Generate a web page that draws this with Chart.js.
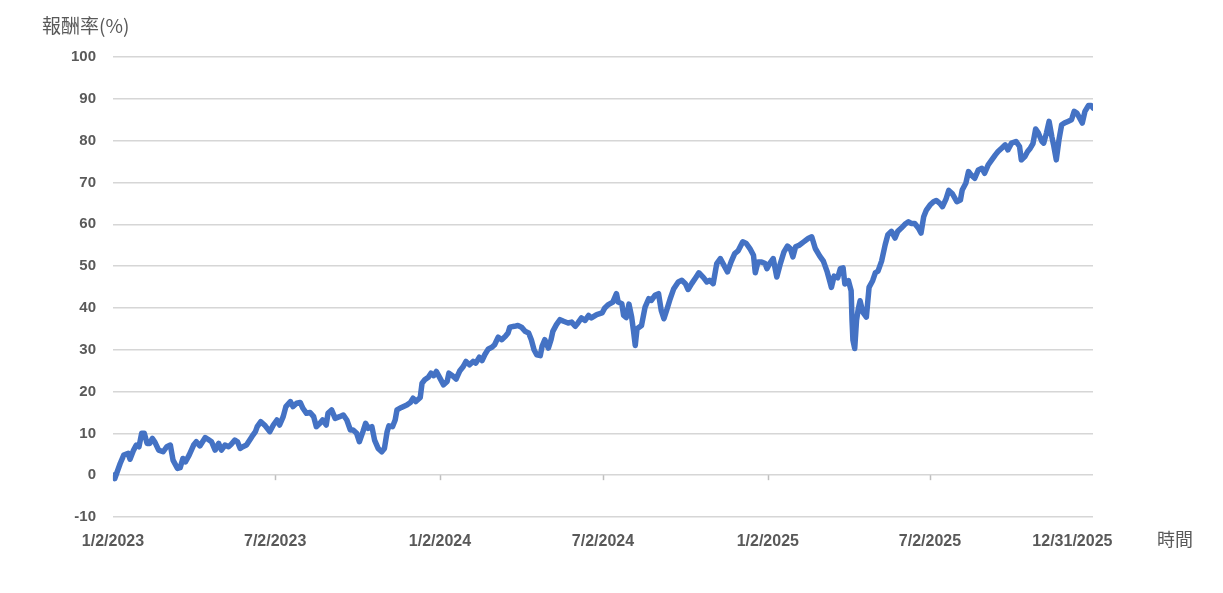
<!DOCTYPE html>
<html>
<head>
<meta charset="utf-8">
<title>報酬率</title>
<script src="https://cdn.jsdelivr.net/npm/chart.js@4.4.1/dist/chart.umd.min.js"></script>
<style>
  body { margin: 0; background: #fff; }
  #wrap { position: relative; width: 1223px; height: 593px; }
  .axis-title {
    position: absolute;
    color: #595959;
    font-family: "Noto Sans CJK TC", "Noto Sans CJK SC", sans-serif;
    font-size: 18px;
    line-height: 1;
    white-space: nowrap;
  }
  #y-title { left: 42px; top: 15px; font-size: 19px; }
  #x-title { left: 1157px; top: 529px; }
</style>
</head>
<body>
<div id="wrap">
  <canvas id="returnChart" width="1223" height="593"></canvas>
  <div class="axis-title" id="y-title">報酬率(%)</div>
  <div class="axis-title" id="x-title">時間</div>
</div>
<script>
// Days since 1/2/2023 for each sampled point
var dayOffsets = [
  0, 2, 4, 8, 12, 17, 19, 23, 26, 29, 32, 35, 38, 41, 44, 47, 51, 56, 60, 64,
  67, 72, 75, 78, 81, 85, 90, 93, 97, 103, 106, 110, 114, 118, 121, 125, 129, 132, 136, 139,
  142, 145, 149, 155, 159, 161, 165, 170, 175, 179, 183, 186, 190, 193, 198, 201, 205, 209, 212, 216,
  220, 224, 227, 231, 234, 238, 240, 244, 248, 253, 257, 261, 265, 268, 272, 275, 279, 282, 285, 289,
  292, 296, 300, 303, 306, 308, 312, 315, 317, 322, 328, 332, 335, 338, 343, 345, 348, 352, 355, 358,
  361, 365, 369, 373, 375, 379, 383, 387, 391, 394, 398, 402, 405, 409, 412, 415, 419, 423, 426, 430,
  434, 438, 441, 443, 448, 452, 456, 460, 464, 467, 470, 473, 477, 479, 482, 486, 489, 491, 495, 499,
  503, 508, 512, 516, 519, 523, 527, 531, 534, 540, 546, 549, 553, 558, 562, 564, 568, 570, 573, 576,
  579, 581, 583, 585, 590, 594, 598, 601, 605, 609, 612, 615, 618, 622, 626, 631, 635, 639, 642, 646,
  651, 654, 659, 663, 666, 670, 674, 678, 681, 686, 690, 694, 698, 703, 707, 711, 715, 717, 720, 724,
  728, 730, 733, 737, 741, 745, 749, 753, 756, 759, 762, 766, 771, 776, 780, 784, 789, 793, 797, 800,
  802, 805, 809, 812, 815, 817, 821, 824, 825, 826, 828, 830, 832, 834, 837, 841, 844, 848, 851, 854,
  858, 862, 865, 869, 873, 876, 880, 884, 888, 891, 895, 899, 902, 905, 908, 912, 916, 919, 923, 926,
  930, 933, 937, 942, 946, 948, 952, 955, 958, 962, 966, 970, 973, 977, 981, 985, 988, 992, 996, 999,
  1003, 1008, 1012, 1014, 1018, 1021, 1024, 1027, 1030, 1033, 1037, 1039, 1042, 1045, 1048, 1050, 1053, 1056, 1059, 1062,
  1066, 1070, 1073, 1076, 1079, 1082, 1085, 1089, 1092, 1094
];

// Cumulative return (%) at each of those days
var returns = [
  0, -0.8, 0.4, 2.8, 4.8, 5.2, 3.8, 6, 7.2, 6.8, 10, 10, 7.6, 7.6, 8.8, 7.8, 6, 5.6, 6.8, 7.2,
  3.6, 1.6, 1.8, 4, 3.2, 4.8, 7.2, 8, 7, 9, 8.6, 8, 6, 7.6, 6, 7.2, 6.8, 7.4, 8.4, 8,
  6.4, 6.8, 7.2, 9.2, 10.4, 11.6, 12.8, 11.8, 10.4, 12, 13.2, 12, 14, 16.4, 17.6, 16.4, 17.2, 17.4, 16, 14.8,
  15, 14, 11.6, 12.4, 13.2, 12, 14.8, 15.6, 13.6, 14, 14.4, 13.2, 10.8, 10.8, 10, 8, 10.4, 12.4, 11.2, 11.6,
  8.4, 6.4, 5.6, 6.4, 10.4, 11.8, 11.6, 13.2, 15.6, 16.2, 16.8, 17.4, 18.4, 17.6, 18.6, 22, 22.8, 23.4, 24.4, 23.8,
  24.8, 23.2, 21.6, 22.4, 24.4, 23.8, 23, 24.9, 26, 27.2, 26.4, 27.2, 26.8, 28.2, 27.4, 28.8, 30.2, 30.6, 31.2, 33,
  32.4, 33.2, 34, 35.4, 35.6, 35.8, 35.4, 34.4, 34, 32.4, 30, 28.8, 28.6, 30.8, 32.4, 30.4, 32.4, 34.4, 36, 37.2,
  36.8, 36.4, 36.6, 35.6, 36.4, 37.6, 37, 38.2, 37.6, 38.4, 38.8, 40, 40.8, 41.4, 43.4, 41.4, 41, 38.2, 37.7, 40.9,
  37.8, 34.6, 31, 35, 35.8, 40.2, 42.2, 41.8, 43, 43.4, 39.4, 37.4, 39.4, 42.2, 44.6, 46.2, 46.6, 45.8, 44.4, 45.8,
  47.4, 48.4, 47.3, 46.2, 46.6, 45.8, 50.6, 51.8, 50.6, 48.6, 51, 53, 53.7, 55.8, 55.4, 54.2, 52.6, 48.4, 51, 51,
  50.6, 49.4, 50.6, 51.8, 47.4, 50.6, 53.4, 54.8, 54.2, 52.2, 54.6, 55, 55.8, 56.6, 57, 54.2, 52.4, 51.2, 48.8, 46.5,
  44.9, 47.6, 47.2, 49.4, 49.6, 45.7, 46.5, 44.1, 37, 32.3, 30.3, 37, 39.8, 41.7, 39, 37.8, 44.9, 46.5, 48.4, 48.8,
  51.2, 55.1, 57.5, 58.3, 56.7, 58.3, 59.1, 60, 60.6, 60.2, 60.2, 59.1, 57.9, 61.8, 63.4, 64.6, 65.4, 65.7, 65, 64.2,
  66.1, 68.1, 67.3, 65.4, 65.8, 68.2, 69.8, 72.6, 71.8, 71, 73, 73.4, 72.2, 74.2, 75.4, 76.6, 77.4, 78.2, 79, 77.8,
  79.4, 79.8, 78.6, 75.4, 76.2, 77.4, 78.2, 79.3, 82.8, 81.8, 79.8, 79.4, 81.8, 84.6, 81, 79, 75.4, 80.2, 83.8, 84.2,
  84.6, 85, 87, 86.6, 85.4, 84.2, 87, 88.4, 88.4, 87.8
];

// Date labels on the time axis
var tickLabels = ["1/2/2023", "7/2/2023", "1/2/2024", "7/2/2024", "1/2/2025", "7/2/2025", "12/31/2025"];

// y axis range
var yMin = -10;
var yMax = 100;
var yStep = 10;

function daysSinceStart(label) {
  var p = label.split("/");
  var t = Date.UTC(+p[2], +p[0] - 1, +p[1]);
  return Math.round((t - Date.UTC(2023, 0, 2)) / 86400000);
}

var tickDays = tickLabels.map(daysSinceStart);
var lastDay = tickDays[tickDays.length - 1];
// Excel pulls the final date label inward a little
var lastLabelShift = 23;
var labelDays = tickDays.map(function (d, i) {
  return i === tickDays.length - 1 ? d - lastLabelShift : d;
});

var points = dayOffsets.map(function (d, i) {
  return { x: d, y: returns[i] };
});

// small tick marks hanging under the 0 line
var zeroTickMarks = {
  id: "zeroTickMarks",
  beforeDatasetsDraw: function (chart) {
    var xs = chart.scales.x;
    var y0 = chart.scales.y.getPixelForValue(0);
    var ctx = chart.ctx;
    ctx.save();
    ctx.strokeStyle = "#bfbfbf";
    ctx.lineWidth = 1.5;
    tickDays.slice(0, -1).forEach(function (d) {
      var px = Math.round(xs.getPixelForValue(d)) + 0.5;
      ctx.beginPath();
      ctx.moveTo(px, y0);
      ctx.lineTo(px, y0 + 5);
      ctx.stroke();
    });
    ctx.restore();
  }
};

var tickFont = {
  family: "'Liberation Sans', Arial, sans-serif",
  weight: "bold"
};

var ctx = document.getElementById("returnChart").getContext("2d");
var returnChart = new Chart(ctx, {
  type: "line",
  data: {
    datasets: [{
      data: points,
      borderColor: "#4472C4",
      borderWidth: 5.5,
      pointRadius: 0,
      tension: 0,
      borderJoinStyle: "round",
      borderCapStyle: "round"
    }]
  },
  options: {
    responsive: false,
    animation: false,
    layout: { padding: { top: 57, right: 130, bottom: 36, left: 0 } },
    plugins: {
      legend: { display: false },
      tooltip: { enabled: false }
    },
    scales: {
      x: {
        type: "linear",
        min: 0,
        max: lastDay,
        grid: { display: false, drawTicks: false },
        border: { display: false },
        afterBuildTicks: function (scale) {
          scale.ticks = labelDays.map(function (v) { return { value: v }; });
        },
        afterFit: function (scale) { scale.height = 40; },
        ticks: {
          autoSkip: false,
          maxRotation: 0,
          padding: 15,
          color: "#595959",
          font: Object.assign({ size: 16 }, tickFont),
          callback: function (value, index) { return tickLabels[index]; }
        }
      },
      y: {
        min: yMin,
        max: yMax,
        border: { display: false },
        afterFit: function (scale) { scale.width = 113; },
        grid: { color: "#d6d6d6", lineWidth: 1.5, drawTicks: false },
        ticks: {
          stepSize: yStep,
          padding: 17,
          color: "#595959",
          font: Object.assign({ size: 15 }, tickFont)
        }
      }
    }
  },
  plugins: [zeroTickMarks]
});
</script>
</body>
</html>
